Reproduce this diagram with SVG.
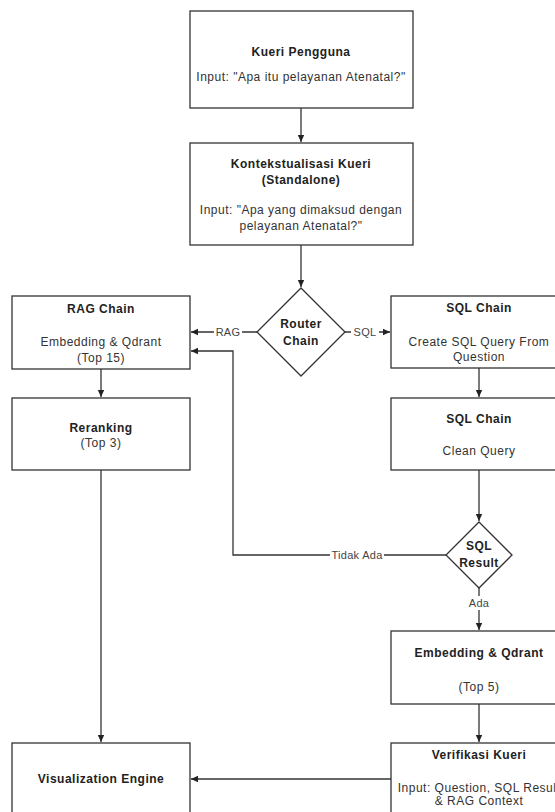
<svg xmlns="http://www.w3.org/2000/svg" width="555" height="812" viewBox="0 0 555 812">
<defs>
<marker id="arr" markerWidth="8" markerHeight="8" refX="7" refY="4" orient="auto" markerUnits="userSpaceOnUse">
<path d="M0,0.8 L7,4 L0,7.2 Z" fill="#222"/>
</marker>
<style>
.box{fill:#fff;stroke:#333;stroke-width:1.3}
.t{font-family:"Liberation Sans",Arial,sans-serif;font-size:12px;letter-spacing:0.5px;fill:#333;text-anchor:middle;dominant-baseline:central}
.b{font-weight:bold;fill:#222}
.c{fill:none;stroke:#333;stroke-width:1.3}
.lbl{font-family:"Liberation Sans",Arial,sans-serif;font-size:11px;letter-spacing:0.3px;fill:#444;text-anchor:middle;dominant-baseline:central}
.lb{fill:#fff}
</style>
</defs>
<rect width="555" height="812" fill="#fff"/>
<g id="connectors">
<path class="c" d="M301,108 V142" marker-end="url(#arr)"/>
<path class="c" d="M301,245 V287" marker-end="url(#arr)"/>
<path class="c" d="M257,332 H191" marker-end="url(#arr)"/>
<path class="c" d="M345,332 H390" marker-end="url(#arr)"/>
<path class="c" d="M101,369 V397" marker-end="url(#arr)"/>
<path class="c" d="M101,470 V742" marker-end="url(#arr)"/>
<path class="c" d="M479,368 V397" marker-end="url(#arr)"/>
<path class="c" d="M479,470 V521" marker-end="url(#arr)"/>
<path class="c" d="M446,555 H233 V351 H191" marker-end="url(#arr)"/>
<path class="c" d="M479,588 V630" marker-end="url(#arr)"/>
<path class="c" d="M479,704 V742" marker-end="url(#arr)"/>
<path class="c" d="M391,779 H191" marker-end="url(#arr)"/>
<rect class="lb" x="214" y="325" width="28" height="14"/>
<text class="lbl" x="228" y="332">RAG</text>
<rect class="lb" x="351" y="325" width="28" height="14"/>
<text class="lbl" x="365" y="332">SQL</text>
<rect class="lb" x="330" y="548" width="54" height="14"/>
<text class="lbl" x="357" y="555">Tidak Ada</text>
<rect class="lb" x="466" y="596" width="26" height="14"/>
<text class="lbl" x="479" y="603">Ada</text>
</g>
<g id="kueri-pengguna">
<rect class="box" x="190" y="11" width="223" height="97"/>
<text class="t b" x="301" y="52">Kueri Pengguna</text>
<text class="t" x="301" y="77">Input: "Apa itu pelayanan Atenatal?"</text>
</g>
<g id="kontekstualisasi">
<rect class="box" x="190" y="143" width="223" height="102"/>
<text class="t b" x="301" y="164">Kontekstualisasi Kueri</text>
<text class="t b" x="301" y="180">(Standalone)</text>
<text class="t" x="301" y="210">Input: "Apa yang dimaksud dengan</text>
<text class="t" x="301" y="226">pelayanan Atenatal?"</text>
</g>
<g id="router-chain">
<polygon class="box" points="301,288 345,332 301,376 257,332"/>
<text class="t b" x="301" y="324">Router</text>
<text class="t b" x="301" y="341">Chain</text>
</g>
<g id="rag-chain">
<rect class="box" x="12" y="296" width="178" height="73"/>
<text class="t b" x="101" y="309">RAG Chain</text>
<text class="t" x="101" y="342">Embedding &amp; Qdrant</text>
<text class="t" x="101" y="358">(Top 15)</text>
</g>
<g id="reranking">
<rect class="box" x="12" y="398" width="178" height="72"/>
<text class="t b" x="101" y="428">Reranking</text>
<text class="t" x="101" y="443">(Top 3)</text>
</g>
<g id="sql-chain-1">
<rect class="box" x="391" y="296" width="176" height="72"/>
<text class="t b" x="479" y="308">SQL Chain</text>
<text class="t" x="479" y="342">Create SQL Query From</text>
<text class="t" x="479" y="357">Question</text>
</g>
<g id="sql-chain-2">
<rect class="box" x="391" y="398" width="176" height="72"/>
<text class="t b" x="479" y="419">SQL Chain</text>
<text class="t" x="479" y="451">Clean Query</text>
</g>
<g id="sql-result">
<polygon class="box" points="479,522 512,555 479,588 446,555"/>
<text class="t b" x="479" y="546">SQL</text>
<text class="t b" x="479" y="563">Result</text>
</g>
<g id="embedding-qdrant">
<rect class="box" x="391" y="631" width="176" height="73"/>
<text class="t b" x="479" y="653">Embedding &amp; Qdrant</text>
<text class="t" x="479" y="687">(Top 5)</text>
</g>
<g id="verifikasi-kueri">
<rect class="box" x="391" y="743" width="176" height="80"/>
<text class="t b" x="479" y="755">Verifikasi Kueri</text>
<text class="t" x="479" y="788">Input: Question, SQL Result</text>
<text class="t" x="479" y="801">&amp; RAG Context</text>
</g>
<g id="visualization-engine">
<rect class="box" x="12" y="743" width="178" height="80"/>
<text class="t b" x="101" y="779">Visualization Engine</text>
</g>
</svg>
